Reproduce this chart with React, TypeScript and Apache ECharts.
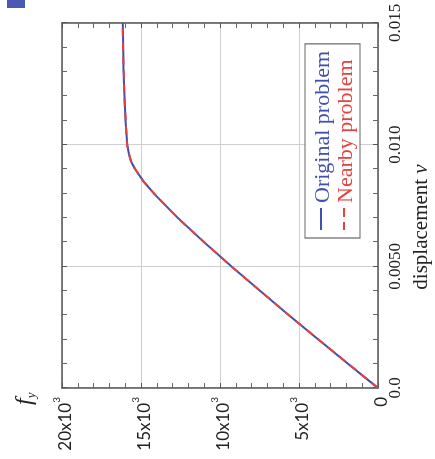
import React, { useEffect, useRef } from "react";
import * as echarts from "echarts";

// displacement v
const displacement = [0, 0.001, 0.002, 0.003, 0.004, 0.005, 0.006, 0.007, 0.008, 0.0085, 0.009, 0.0093, 0.0096, 0.01, 0.011, 0.012, 0.013, 0.014, 0.015];
// f_y for the original problem
const originalForce = [0, 1900, 3790, 5650, 7480, 9280, 11020, 12680, 14200, 14850, 15380, 15620, 15760, 15870, 15980, 16050, 16100, 16130, 16160];
// f_y for the nearby problem
const nearbyForce = [0, 1890, 3780, 5660, 7470, 9290, 11010, 12700, 14180, 14870, 15370, 15630, 15750, 15880, 15970, 16060, 16090, 16140, 16160];

const vTickValues = [0, 0.005, 0.01, 0.015];
const vTickLabels = ["0.0", "0.0050", "0.010", "0.015"];
const fTickValues = [0, 5000, 10000, 15000, 20000];
const fTickLabels = ["0", "5x10", "10x10", "15x10", "20x10"];

const seriesNames = ["Original problem", "Nearby problem"];
const BLUE = "#3f4fb2";
const RED = "#e5423f";
const SERIF = "'Liberation Serif', 'DejaVu Serif', serif";
const SANS = "Lato, 'Liberation Sans', sans-serif";

export default function App() {
  const ref = useRef<HTMLDivElement>(null);
  useEffect(() => {
    if (!ref.current) return;
    const chart = echarts.init(ref.current, undefined, { renderer: "svg" });
    const axisLine = { show: true, onZero: false, lineStyle: { color: "#555", width: 1.5 } };
    const tick = { show: true, inside: true, length: 5, lineStyle: { color: "#555" } };
    const minor = { show: true, splitNumber: 5, length: 5, lineStyle: { color: "#666" } };
    const vFmt = (val: number) => {
      const i = vTickValues.findIndex((t) => Math.abs(t - val) < 1e-9);
      return i >= 0 ? vTickLabels[i] : "";
    };
    const fFmt = (val: number) => {
      const i = fTickValues.findIndex((t) => Math.abs(t - val) < 1e-6);
      if (i < 0) return "";
      return i === 0 ? `{b|${fTickLabels[i]}}` : `{b|${fTickLabels[i]}}{s|3}`;
    };
    const pairs = (ys: number[]) => displacement.map((v, i) => [v, ys[i]]);
    chart.setOption({
      animation: false,
      backgroundColor: "#fff",
      grid: { left: 71, right: 23, top: 62, bottom: 57, containLabel: false },
      xAxis: [
        {
          type: "value", min: 0, max: 0.015, interval: 0.005, position: "bottom",
          axisLine, axisTick: tick, minorTick: minor,
          splitLine: { show: true, lineStyle: { color: "#cfcfcf", width: 1 } },
          axisLabel: { margin: 8, fontFamily: SERIF, fontSize: 17, color: "#222", formatter: vFmt },
        },
        {
          type: "value", min: 0, max: 0.015, interval: 0.005, position: "top",
          axisLine, axisTick: tick, minorTick: minor,
          splitLine: { show: false }, axisLabel: { show: false },
        },
      ],
      yAxis: [
        {
          type: "value", min: 0, max: 20000, interval: 5000, position: "left",
          axisLine, axisTick: tick, minorTick: minor,
          splitLine: { show: true, lineStyle: { color: "#cfcfcf", width: 1 } },
          axisLabel: {
            margin: 9, color: "#222", formatter: fFmt,
            rich: {
              b: { fontFamily: SANS, fontSize: 17, color: "#222", lineHeight: 22, verticalAlign: "bottom" },
              s: { fontFamily: SANS, fontSize: 10, color: "#222", verticalAlign: "top", lineHeight: 22 },
            },
          },
        },
        {
          type: "value", min: 0, max: 20000, interval: 5000, position: "right",
          axisLine, axisTick: tick, minorTick: minor,
          splitLine: { show: false }, axisLabel: { show: false },
        },
      ],
      legend: {
        orient: "vertical", left: 221, top: 305,
        padding: [5, 7, 5, 8], itemGap: 1, itemWidth: 22, itemHeight: 2,
        borderColor: "#666", borderWidth: 1.2, backgroundColor: "#fff",
        textStyle: { fontFamily: SERIF, fontSize: 22 },
        data: [
          { name: seriesNames[0], icon: "path://M0,0h22v2h-22z", textStyle: { color: BLUE } },
          { name: seriesNames[1], icon: "path://M0,0h8v2h-8z M13,0h9v2h-9z", textStyle: { color: RED } },
        ],
      },
      graphic: [
        { type: "rect", shape: { x: 451, y: 7, width: 8, height: 18 }, style: { fill: "#4a5ab2" } },
        {
          type: "text", x: 54, y: 11,
          style: {
            text: "{f|f}{y|y}",
            rich: {
              f: { fontFamily: SERIF, fontStyle: "italic", fontSize: 24, fill: "#222", verticalAlign: "top", lineHeight: 26 },
              y: { fontFamily: SERIF, fontStyle: "italic", fontSize: 13, fill: "#222", verticalAlign: "bottom", lineHeight: 26 },
            },
          },
        },
        {
          type: "text", x: 232, y: 409,
          style: {
            text: "{a|displacement }{v|v}", textAlign: "center",
            rich: {
              a: { fontFamily: SERIF, fontSize: 21, fill: "#222" },
              v: { fontFamily: SERIF, fontStyle: "italic", fontSize: 21, fill: "#222" },
            },
          },
        },
      ],
      series: [
        {
          name: seriesNames[0], type: "line", data: pairs(originalForce), showSymbol: false, symbol: "none",
          lineStyle: { color: BLUE, width: 2 }, itemStyle: { color: BLUE },
        },
        {
          name: seriesNames[1], type: "line", data: pairs(nearbyForce), showSymbol: false, symbol: "none",
          lineStyle: { color: RED, width: 2, type: [8, 6] }, itemStyle: { color: RED },
        },
      ],
    });
    return () => chart.dispose();
  }, []);
  return (
    <div
      ref={ref}
      style={{
        position: "fixed", left: 0, top: 0, width: 459, height: 435,
        transformOrigin: "0 0", transform: "translate(0px, 459px) rotate(-90deg)",
      }}
    />
  );
}
